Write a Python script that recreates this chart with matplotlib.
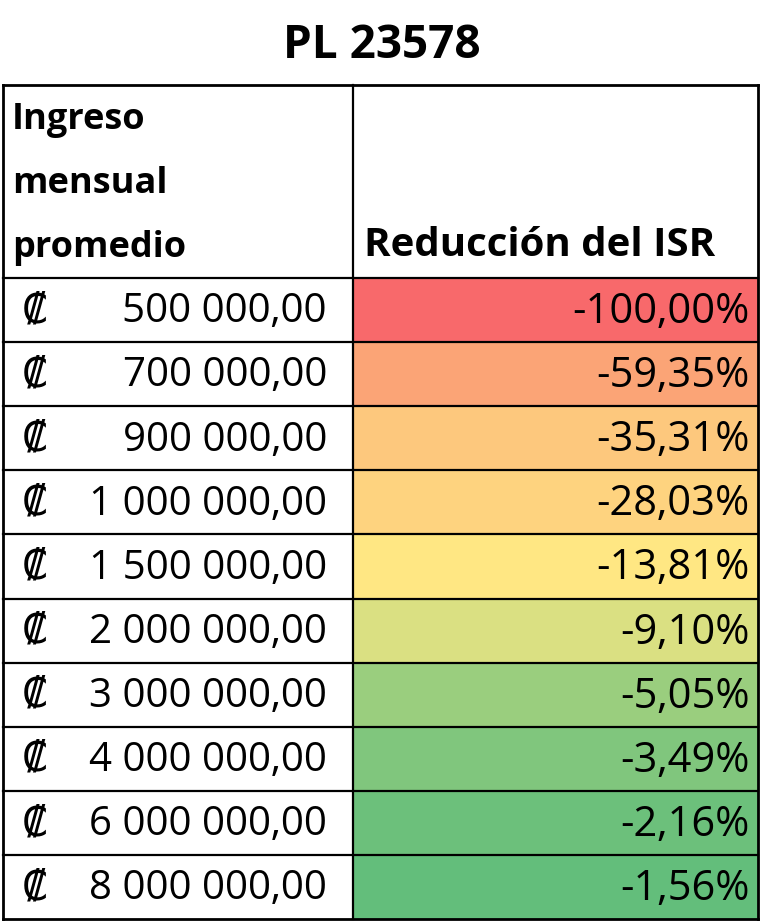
import matplotlib.pyplot as plt
from matplotlib.patches import Rectangle
from matplotlib.colors import LinearSegmentedColormap, TwoSlopeNorm
import numpy as np

TITLE = "PL 23578"
HEADER_LEFT = ["Ingreso", "mensual", "promedio"]
HEADER_RIGHT = "Reducción del ISR"
incomes = [500000, 700000, 900000, 1000000, 1500000, 2000000, 3000000, 4000000, 6000000, 8000000]
reductions = [-100.00, -59.35, -35.31, -28.03, -13.81, -9.10, -5.05, -3.49, -2.16, -1.56]

plt.rcParams["font.family"] = ["Open Sans", "DejaVu Sans"]

W, H = 763, 924
fig = plt.figure(figsize=(W / 100, H / 100), dpi=100)
ax = fig.add_axes([0, 0, 1, 1])
ax.set_xlim(0, W)
ax.set_ylim(H, 0)
ax.axis("off")

left, mid, right = 3, 353, 758
title_bot, head_bot, bottom = 85, 278, 919
row_h = (bottom - head_bot) / len(incomes)

# Excel-style 3-colour scale (red-yellow-green), midpoint at median
cmap = LinearSegmentedColormap.from_list("rg", ["#F8696B", "#FFEB84", "#63BE7B"])
norm = TwoSlopeNorm(vmin=min(reductions), vcenter=np.median(reductions), vmax=max(reductions))


def fmt_income(v):
    return f"{v:,.2f}".replace(",", " ").replace(".", ",")


def fmt_pct(v):
    return f"{v:.2f}".replace(".", ",") + "%"


for i, (inc, red) in enumerate(zip(incomes, reductions)):
    y0 = head_bot + i * row_h
    ax.add_patch(Rectangle((mid, y0), right - mid, row_h, facecolor=cmap(norm(red)), edgecolor="none"))
    yc = y0 + row_h / 2 + 2
    ax.text(22, yc, "₡", fontsize=29, va="center", ha="left")
    ax.text(327, yc, fmt_income(inc), fontsize=29, va="center", ha="right")
    ax.text(750, yc, fmt_pct(red), fontsize=30, va="center", ha="right")
    ax.plot([left, right], [y0, y0], color="black", lw=1.6)

# header
ax.text(W / 2, title_bot / 2 + 3, TITLE, fontsize=33, fontweight="bold", ha="center", va="center")
for j, word in enumerate(HEADER_LEFT):
    ax.text(12, 120 + j * 64, word, fontsize=26, fontweight="bold", ha="left", va="center")
ax.text(364, 246, HEADER_RIGHT, fontsize=29, fontweight="bold", ha="left", va="center")

# grid lines
ax.plot([left, right], [title_bot, title_bot], color="black", lw=2)
ax.plot([left, right], [bottom, bottom], color="black", lw=2)
ax.plot([left, left], [title_bot, bottom], color="black", lw=2)
ax.plot([right, right], [title_bot, bottom], color="black", lw=2)
ax.plot([mid, mid], [title_bot, bottom], color="black", lw=1.6)

fig.savefig("out.png", dpi=100)
